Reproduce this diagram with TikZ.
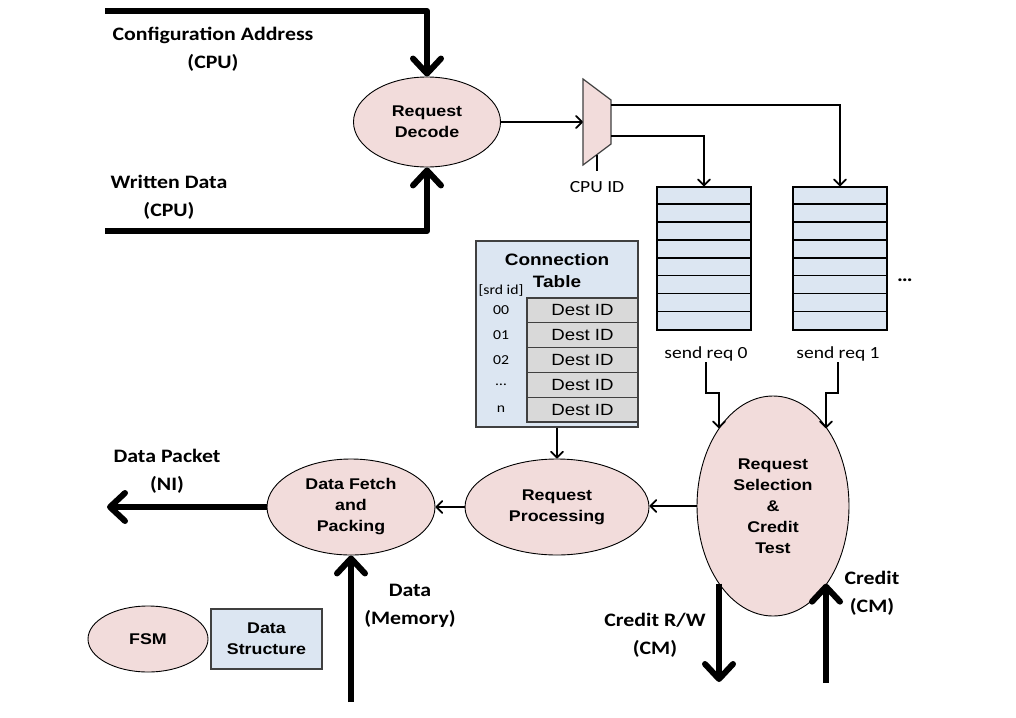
\documentclass[tikz,border=0pt]{standalone}
\usepackage{fontspec}
\newfontfamily\calib{Carlito}[FakeStretch=1.15]
\newfontfamily\arial{Liberation Sans}[FakeStretch=1.15]
\usetikzlibrary{arrows.meta,shapes.geometric,calc}
\definecolor{pinkf}{HTML}{F2DCDB}
\definecolor{bluef}{HTML}{DCE6F2}
\definecolor{greyf}{HTML}{D9D9D9}
\definecolor{bord}{HTML}{404040}
\begin{document}
\begin{tikzpicture}[x=1pt,y=-1pt,
  proc/.style={ellipse,draw=black,line width=0.9pt,fill=pinkf,inner sep=0pt,align=center,
    font=\arial\bfseries\fontsize{15.5}{21}\selectfont},
  plainbox/.style={rectangle,draw=bord,line width=1.2pt,fill=bluef,inner sep=0pt,align=center,
    font=\arial\bfseries\fontsize{15.5}{21}\selectfont},
  lbl/.style={align=center,inner sep=1pt,font=\calib\bfseries\fontsize{19}{28}\selectfont},
  small/.style={inner sep=1pt,font=\calib\fontsize{17}{20}\selectfont},
  tiny/.style={inner sep=0pt,font=\calib\fontsize{13.7}{16}\selectfont},
  queuebox/.style={rectangle,draw=black,line width=1.4pt,fill=bluef,minimum width=94pt,minimum height=143pt,inner sep=0pt},
  destcell/.style={rectangle,draw=bord,line width=1.2pt,fill=greyf,minimum width=111pt,minimum height=24.8pt,inner sep=0pt,
    font=\arial\fontsize{16.2}{18}\selectfont},
  thickarrow/.style={line width=6pt,line join=round,-{Straight Barb[length=15pt,width=28pt,round]}},
  thinarrow/.style={line width=1.8pt,-{Straight Barb[length=6pt,width=12pt,round]}},
  thinline/.style={line width=1.8pt}
]
\useasboundingbox[fill=white] (0,0) rectangle (1016,717);

% process ellipses
\node[proc,minimum width=147pt,minimum height=90pt] (dec) at (427,122) {Request\\Decode};
\node[proc,minimum width=168pt,minimum height=96pt] (df) at (351,507) {Data Fetch\\and\\Packing};
\node[proc,minimum width=184pt,minimum height=96pt] (rp) at (557,507) {Request\\Processing};
\node[proc,minimum width=152pt,minimum height=220pt] (rs) at (773,506) {Request\\Selection\\\&\\Credit\\Test};
\node[proc,minimum width=120pt,minimum height=66pt] (fsm) at (148,639) {FSM};
\node[plainbox,minimum width=111pt,minimum height=60pt] (ds) at (266.5,639) {Data\\Structure};

% connection table
\node[rectangle,draw=bord,line width=1.4pt,fill=bluef,minimum width=162pt,minimum height=186pt,inner sep=0pt] (tab) at (557,334) {};
\node[align=center,inner sep=0pt,font=\arial\bfseries\fontsize{16.5}{22}\selectfont] (tabt) at (557,271) {Connection\\Table};
\node[tiny] (srd) at (501,290) {[srd id]};
\foreach \lab [count=\k] in {00,01,02,{\ldots},n}{
  \node[destcell] (dc\k) at (582.5,{298+12.4+(\k-1)*24.8}) {Dest ID};
  \node[tiny] (rl\k) at (501,{298+12.4+(\k-1)*24.8}) {\lab};
}

% multiplexer
\draw[fill=pinkf,draw=bord,line width=1.2pt] (583,79) -- (611,100) -- (611,144) -- (583,165) -- cycle;
\coordinate (muxin) at (583,122);
\coordinate (mo1) at (611,105);
\coordinate (mo2) at (611,136);
\coordinate (muxb) at (597,154.5);
\coordinate (cpuend) at (597,171);
\node[small] (cpuid) at (597,187) {CPU ID};

% queues
\node[queuebox] (q0) at (704,258.5) {};
\node[queuebox] (q1) at (840,258.5) {};
\foreach \q in {q0,q1}{
  \foreach \i in {1,2,3,4,5,6,7}{
    \draw[line width=1.4pt] ($(\q.north west)+(0,\i*17.875)$) -- ($(\q.north east)+(0,\i*17.875)$);
  }
}
\node[small] (sr0) at (706,354) {send req 0};
\node[small] (sr1) at (838,354) {send req 1};
\node[lbl] (dots) at (905,280) {\ldots};

% labels
\node[lbl] (cal) at (213,49) {Configuration Address\\(CPU)};
\node[lbl] (wdl) at (169,197) {Written Data\\(CPU)};
\node[lbl] (dpl) at (167,471) {Data Packet\\(NI)};
\node[lbl] (dml) at (410,606) {Data\\(Memory)};
\node[lbl] (crwl) at (655,635) {Credit R/W\\(CM)};
\node[lbl] (ccml) at (872,593) {Credit\\(CM)};

% connectors
\coordinate (ca) at (105,11);
\coordinate (wd) at (105,231);
\draw[thickarrow] (ca) -| (dec.north);
\draw[thickarrow] (wd) -| (dec.south);
\draw[thinarrow] (dec.east) -- (muxin);
\draw[thinarrow] (mo1) -| (q1.north);
\draw[thinarrow] (mo2) -| (q0.north);
\draw[thinline] (muxb) -- (cpuend);

\coordinate (k0) at (719,393);
\coordinate (k1) at (826,393);
\draw[thinarrow] (sr0.south) |- (k0) -- (k0 |- rs.125);
\draw[thinarrow] (sr1.south) |- (k1) -- (k1 |- rs.55);

\coordinate (crw) at (719,682);
\coordinate (ccm) at (826,683);
\draw[thickarrow] (crw |- rs.235) -- (crw);
\draw[thickarrow] (ccm) -- (ccm |- rs.305);

\draw[thinarrow] (rs.west) -- (rs.west -| rp.east);
\draw[thinarrow] (rp.west) -- (df.east);
\draw[thinarrow] (tab.south) -- (rp.north);

\coordinate (dp) at (107,507);
\coordinate (dm) at (351,702);
\draw[thickarrow] (df.west) -- (dp);
\draw[thickarrow] (dm) -- (df.south);
\end{tikzpicture}
\end{document}
